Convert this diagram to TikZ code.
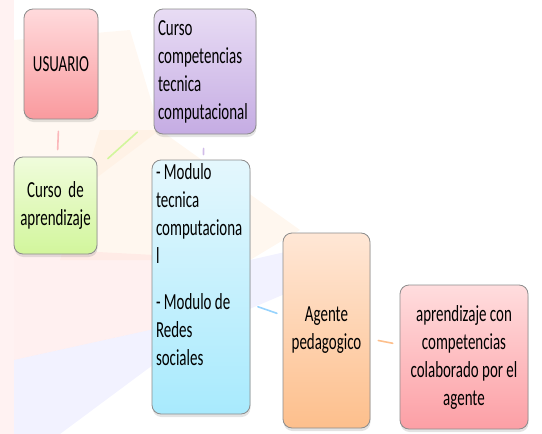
\documentclass[tikz,border=0pt]{standalone}
\usepackage{fontspec}
\setmainfont{Carlito}[FakeStretch=0.65]
\usepackage{tikz}
\usetikzlibrary{shadows, backgrounds}
\usepackage{xcolor}

\definecolor{usuTop}{HTML}{FFDADC}
\definecolor{usuBot}{HTML}{F99A9E}
\definecolor{curTop}{HTML}{F0FCDC}
\definecolor{curBot}{HTML}{D2F69C}
\definecolor{tecTop}{HTML}{E8DCF4}
\definecolor{tecBot}{HTML}{C5ACE3}
\definecolor{modTop}{HTML}{E4F7FD}
\definecolor{modBot}{HTML}{A8EAFD}
\definecolor{ageTop}{HTML}{FFE7D6}
\definecolor{ageBot}{HTML}{FDBF8C}
\definecolor{aprTop}{HTML}{FFDDDE}
\definecolor{aprBot}{HTML}{FC9FA5}

\begin{document}
\begin{tikzpicture}[
  x=1pt, y=-1pt,
  font=\fontsize{23}{28}\selectfont,
  B/.style={draw=black!45, rectangle, rounded corners=9pt, line width=0.8pt,
            inner sep=4pt, align=center,
            drop shadow={opacity=0.22, shadow xshift=0.5pt, shadow yshift=-3pt}},
  Bu/.style={B, top color=usuTop, bottom color=usuBot},
  Bc/.style={B, top color=curTop, bottom color=curBot},
  Bt/.style={B, top color=tecTop, bottom color=tecBot, align=flush left},
  Bm/.style={B, top color=modTop, bottom color=modBot, align=flush left},
  Ba/.style={B, top color=ageTop, bottom color=ageBot},
  Bp/.style={B, top color=aprTop, bottom color=aprBot},
  conn/.style={line width=1.6pt, line cap=round},
]
\useasboundingbox (0,0) rectangle (542,434);

%% ---- faint slide background ----
\begin{scope}[on background layer]
  \fill[pink!40, opacity=0.5] (0,0) rectangle (14,434);
  \fill[orange!10, opacity=0.5] (14,40) -- (130,30) -- (160,130) -- (14,240) -- cycle;
  \fill[orange!18, opacity=0.35] (100,130) -- (160,130) -- (300,230)
       -- (250,260) -- (60,260) -- cycle;
  \fill[red!15, opacity=0.4] (14,240) -- (60,250) -- (250,260)
       -- (150,330) -- (14,360) -- cycle;
  \fill[blue!15, opacity=0.35] (14,360) -- (150,330) -- (250,260) -- (360,235)
       -- (360,262) -- (200,330) -- (60,434) -- (14,434) -- cycle;
\end{scope}

%% ---- boxes ----
\node[Bu, minimum width=74pt, minimum height=110pt] (usu) at (61,64) {USUARIO};
\node[Bc, minimum width=83pt, minimum height=97pt]  (cur) at (55.5,205.5)
  {Curso\ \ de\\aprendizaje};
\node[Bt, minimum width=102pt, minimum height=125pt, text width=94pt] (tec) at (205,71.5)
  {Curso\\competencias\\tecnica\\computacional};
\node[Bm, minimum width=98pt, minimum height=254pt, text width=90pt] (mod) at (201,287)
  {- Modulo\\tecnica\\computaciona\\l\\[18pt]- Modulo de\\Redes\\sociales\\[16pt]\mbox{}};
\node[Ba, minimum width=87pt, minimum height=195pt] (age) at (326.5,330.5)
  {Agente\\pedagogico};
\node[Bp, minimum width=128pt, minimum height=144pt] (apr) at (464,357)
  {aprendizaje con\\competencias\\colaborado por el\\agente};

%% ---- short connectors ----
\draw[conn, usuBot!70, shorten <=12pt, shorten >=7pt] (usu) -- (cur);
\draw[conn, curBot, shorten <=14pt, shorten >=22pt] (cur) -- (tec);
\draw[conn, tecBot!80, shorten <=14pt, shorten >=5pt] (tec) -- (mod);
\draw[conn, modBot!90!blue, shorten <=8pt, shorten >=6pt] (mod) -- (age);
\draw[conn, ageBot, shorten <=8pt, shorten >=7pt] (age) -- (apr);

\end{tikzpicture}
\end{document}
